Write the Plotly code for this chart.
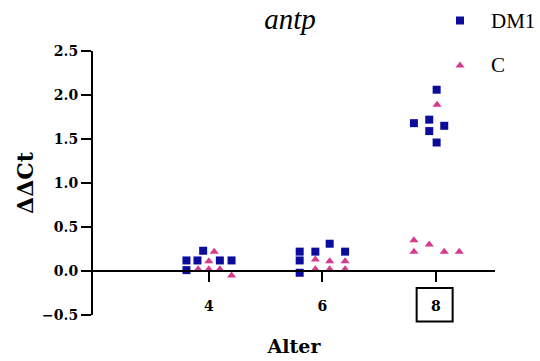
import plotly.graph_objects as go

# ---- data ----
ages = ["4", "6", "8"]
series_names = ["DM1", "C"]

dm1_group = [0, 0, 0, 0, 0, 0, 1, 1, 1, 1, 1, 1, 2, 2, 2, 2, 2, 2]
dm1_jitter = [-0.05, -0.197, -0.10, 0.097, 0.20, -0.197,
              -0.20, -0.20, -0.20, -0.062, 0.064, 0.20,
              0.006, -0.194, -0.059, 0.073, -0.059, 0.006]
dm1_values = [0.23, 0.12, 0.12, 0.12, 0.12, 0.01,
              0.22, 0.12, -0.02, 0.22, 0.31, 0.22,
              2.06, 1.68, 1.72, 1.65, 1.59, 1.46]

c_group = [0, 0, 0, 0, 0, 0, 1, 1, 1, 1, 1, 1, 2, 2, 2, 2, 2, 2]
c_jitter = [0.047, 0.0, -0.094, 0.0, 0.097, 0.20,
            -0.062, 0.064, 0.20, -0.062, 0.064, 0.20,
            0.01, -0.194, -0.194, -0.059, 0.073, 0.205]
c_values = [0.22, 0.11, 0.02, 0.02, 0.02, -0.05,
            0.13, 0.11, 0.11, 0.02, 0.02, 0.02,
            1.89, 0.35, 0.22, 0.30, 0.22, 0.22]

BLUE = "#0c0c9c"
PINK = "#d63a8e"
FONT = "DejaVu Serif"
FONT_REG = "Liberation Serif"

fig = go.Figure()
fig.add_trace(go.Scatter(
    x=[g + j for g, j in zip(dm1_group, dm1_jitter)], y=dm1_values,
    mode="markers", name="", legendgroup="a",
    marker=dict(symbol="square", size=8, color=BLUE)))
fig.add_trace(go.Scatter(
    x=[g + j for g, j in zip(c_group, c_jitter)], y=c_values,
    mode="markers", name="", legendgroup="b",
    marker=dict(symbol="triangle-up", size=8, color=PINK)))

# legend labels as text next to the legend symbols
for name, ypix in zip(series_names, [21, 65]):
    fig.add_annotation(text=name, xref="paper", yref="paper",
                       x=(489 - 93) / 402, y=(361 - 46 - ypix) / 264,
                       xanchor="left", yanchor="middle", showarrow=False,
                       font=dict(family=FONT_REG, size=21, color="black"))

# box around the "8" tick label
fig.add_shape(type="rect", xref="x", yref="paper",
              x0=1.83, x1=2.147, y0=-0.025, y1=0.102,
              line=dict(color="black", width=2), fillcolor="rgba(0,0,0,0)")

fig.update_layout(
    width=540, height=361,
    margin=dict(l=93, r=45, t=51, b=46, autoexpand=False),
    paper_bgcolor="white", plot_bgcolor="white",
    font=dict(family=FONT, color="black"),
    title=dict(text="antp", font=dict(family=FONT_REG, size=29, color="black", style="italic"),
               x=0.49, xref="paper", xanchor="center",
               y=1 - 19 / 361, yref="container", yanchor="middle"),
    showlegend=True,
    legend=dict(xref="container", yref="container",
                x=440 / 540, y=1 - 1 / 361, xanchor="left", yanchor="top",
                traceorder="grouped", tracegroupgap=16,
                font=dict(family=FONT, size=20, color="black"),
                bgcolor="rgba(0,0,0,0)"),
    xaxis=dict(range=[-1.02, 2.52], tickvals=[0, 1, 2], ticktext=ages,
               anchor="free", position=1 / 6,
               showline=True, linecolor="black", linewidth=2,
               ticks="outside", ticklen=10, tickwidth=2, tickcolor="black",
               ticklabelstandoff=12,
               tickfont=dict(family=FONT, size=14, weight="bold"),
               showgrid=False, zeroline=False,
               title=dict(text="Alter", standoff=26,
                          font=dict(family=FONT, size=19, weight="bold"))),
    yaxis=dict(range=[-0.5, 2.5], tickvals=[-0.5, 0, 0.5, 1, 1.5, 2, 2.5],
               tickformat=".1f",
               showline=True, linecolor="black", linewidth=2,
               ticks="outside", ticklen=10, tickwidth=2, tickcolor="black",
               tickfont=dict(family=FONT, size=14, weight="bold"),
               showgrid=False, zeroline=False,
               title=dict(text="ΔΔCt", standoff=2,
                          font=dict(family=FONT, size=22, weight="bold"))),
)

fig.write_html("out.html")
